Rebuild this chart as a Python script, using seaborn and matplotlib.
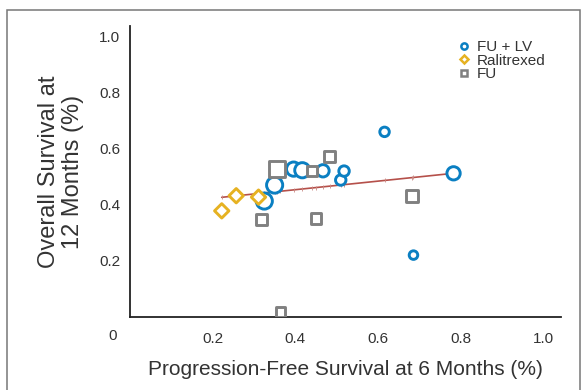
import matplotlib
matplotlib.use("Agg")
import matplotlib.pyplot as plt
from matplotlib.lines import Line2D
from matplotlib.patches import Rectangle
import numpy as np
import pandas as pd
import seaborn as sns

# Study-level results by treatment arm
fulv_pfs = [0.616, 0.686, 0.783, 0.325, 0.350, 0.396, 0.417, 0.467, 0.510, 0.518]
fulv_os = [0.658, 0.218, 0.510, 0.411, 0.468, 0.525, 0.521, 0.519, 0.486, 0.518]
fulv_w = [10, 9, 14, 17, 17, 15, 16, 13, 11, 11]

ralt_pfs = [0.222, 0.257, 0.311]
ralt_os = [0.376, 0.430, 0.425]
ralt_w = [12, 12, 12]

fu_pfs = [0.355, 0.440, 0.483, 0.318, 0.450, 0.682, 0.364]
fu_os = [0.525, 0.519, 0.569, 0.345, 0.349, 0.430, 0.015]
fu_w = [17, 10, 12, 11, 11, 13, 10]

groups = ["FU + LV", "Ralitrexed", "FU"]
colors = {"FU + LV": "#0a7fc2", "Ralitrexed": "#e6b222", "FU": "#808080"}
markers = {"FU + LV": "o", "Ralitrexed": "D", "FU": "s"}

# Weighted regression of OS on PFS
fit_intercept = 0.3904
fit_slope = 0.1528

x_ticks = [0.2, 0.4, 0.6, 0.8, 1.0]
y_ticks = [0.2, 0.4, 0.6, 0.8, 1.0]

df = pd.DataFrame({
    "pfs": fulv_pfs + ralt_pfs + fu_pfs,
    "os": fulv_os + ralt_os + fu_os,
    "w": fulv_w + ralt_w + fu_w,
    "arm": [groups[0]] * len(fulv_pfs) + [groups[1]] * len(ralt_pfs) + [groups[2]] * len(fu_pfs),
})

sns.set_style("white")
plt.rcParams["font.family"] = ["Liberation Sans", "DejaVu Sans"]

fig = plt.figure(figsize=(5.86, 3.90), dpi=100)
ax = fig.add_axes([130 / 586, 1 - 317 / 390, (561 - 130) / 586, (317 - 26) / 390])

line_col = "#b5504a"
# Fitted line evaluated at each study's PFS value
fit = df.sort_values("pfs").copy()
fit["pred"] = fit_intercept + fit_slope * fit["pfs"]
sns.lineplot(data=fit, x="pfs", y="pred", ax=ax, color=line_col, lw=1.2,
             marker="|", markersize=2.2, markeredgewidth=0.6, markeredgecolor="#c98a84",
             sort=True, zorder=2)

# Markers: diameter (px) -> area in points^2
px2pt = 0.72
for arm in groups:
    sub = df[df["arm"] == arm]
    scale = 0.72 if arm == "Ralitrexed" else 0.9
    areas = (sub["w"] * px2pt) ** 2 * scale
    sns.scatterplot(data=sub, x="pfs", y="os", ax=ax, marker=markers[arm],
                    s=areas.values, facecolor="white", edgecolor=colors[arm],
                    linewidth=2.1, zorder=3, legend=False)

ax.set_xlim(0, 1.043)
ax.set_ylim(-0.003, 1.036)
ax.set_xticks(x_ticks)
ax.set_xticklabels([f"{t:.1f}" for t in x_ticks])
ax.set_yticks(y_ticks)
ax.set_yticklabels([f"{t:.1f}" for t in y_ticks])
ax.tick_params(axis="both", direction="out", length=4, width=1, colors="#222222",
               labelsize=11, labelcolor="#333333", pad=7)
ax.tick_params(axis="y", pad=3)
ax.text(-0.043, -0.003 - 0.067 * 1.039, "0", transform=ax.transData,
        ha="center", va="center", fontsize=11, color="#333333")

for side in ["top", "right"]:
    ax.spines[side].set_visible(False)
for side in ["left", "bottom"]:
    ax.spines[side].set_color("#222222")
    ax.spines[side].set_linewidth(1.3)

ax.set_xlabel("Progression-Free Survival at 6 Months (%)", fontsize=15, color="#333333", labelpad=10)
ax.set_ylabel("Overall Survival at\n12 Months (%)", fontsize=17, color="#333333", labelpad=11,
              linespacing=1.12)

handles = [Line2D([0], [0], marker=markers[g], linestyle="none", markersize=4.5 if g != "Ralitrexed" else 4,
                  markerfacecolor="white", markeredgecolor=colors[g], markeredgewidth=1.8)
           for g in groups]
ax.legend(handles, groups, loc="upper right", bbox_to_anchor=(0.985, 0.982), frameon=False,
          fontsize=11, handletextpad=0.35, labelspacing=-0.05, borderaxespad=0.2, handlelength=1.0,
          labelcolor="#333333")

fig.patches.append(Rectangle((7 / 586, -0.1), (580 - 7) / 586, 1.1 - 10 / 390,
                             transform=fig.transFigure, fill=False, edgecolor="#777777",
                             linewidth=1.1))

fig.savefig("out.png", dpi=100)
